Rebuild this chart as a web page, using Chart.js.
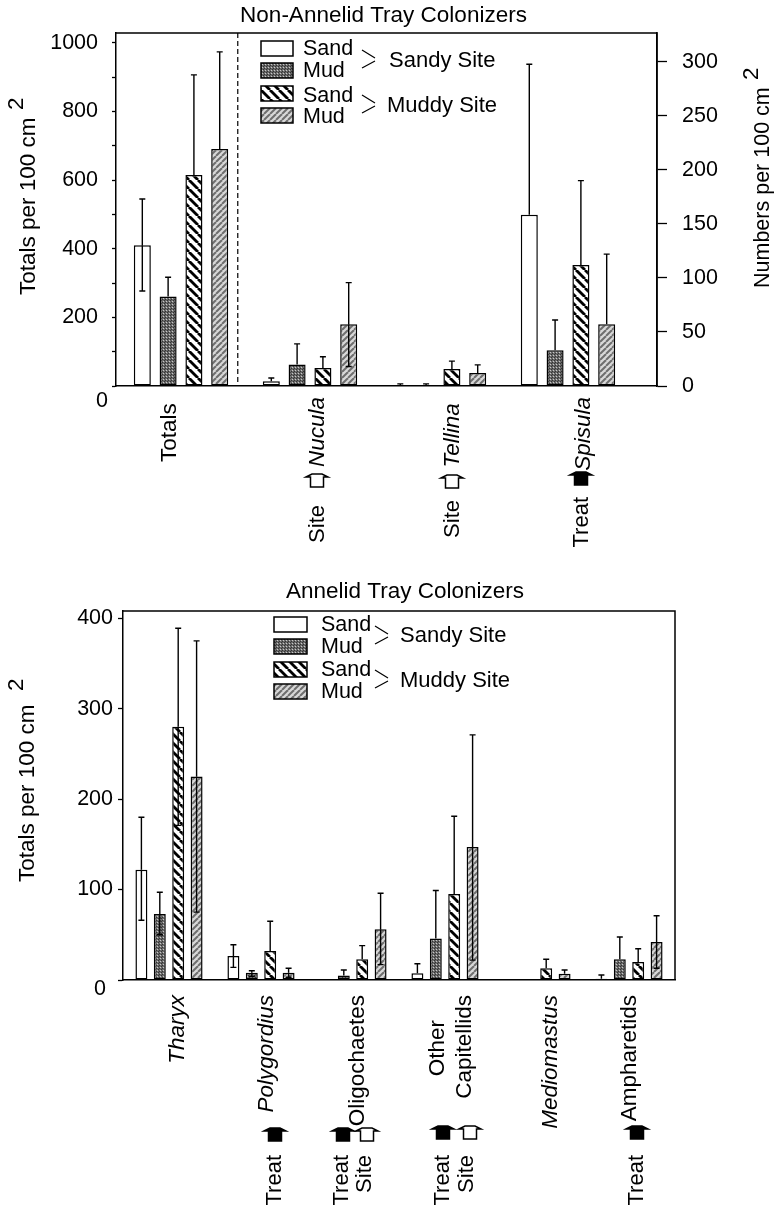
<!DOCTYPE html>
<html>
<head>
<meta charset="utf-8">
<style>
  html, body { margin: 0; padding: 0; background: #fff; }
  #wrapTop, #wrapBottom { position: absolute; left: 0; width: 775px; }
  #wrapTop { top: 0; height: 570px; }
  #wrapBottom { top: 570px; height: 635px; }
</style>
<script src="https://cdn.jsdelivr.net/npm/chart.js@4/dist/chart.umd.min.js"></script>
</head>
<body>
<div id="wrapTop"><canvas id="chartTop" width="775" height="570"></canvas></div>
<div id="wrapBottom"><canvas id="chartBottom" width="775" height="635"></canvas></div>
<script>
const seriesNames = ['Sand', 'Mud', 'Sand', 'Mud'];

// top panel: Totals reads on the left axis, the three species on the right one
const topCategories = ['Totals', 'Nucula', 'Tellina', 'Spisula'];
const topValues = [
  [410, 4.3, 1, 158.5],
  [261, 20, 1, 33],
  [615, 16.6, 15.7, 112],
  [691, 57, 12, 57]
];
const topUpper = [
  [545, 7.4, 2, 297.6],
  [317, 39, 2, 61],
  [907, 27, 23, 190],
  [974, 95.6, 19.5, 122]
];
const topLower = [
  [277, null, null, null],
  [null, null, null, null],
  [null, null, null, null],
  [null, 18, null, null]
];

const bottomCategories = ['Tharyx', 'Polygordius', 'Oligochaetes', ['Other', 'Capitellids'], 'Mediomastus', 'Ampharetids'];
const bottomTicks = [0, 100, 200, 300, 400];
const bottomValues = [
  [122, 26.5, 0, 7.4, 0.3, 1.5],
  [73, 8, 5, 46, 0.3, 23],
  [280, 32, 23, 95, 13, 20],
  [225, 8, 56, 147, 7, 42]
];
const bottomUpper = [
  [180, 39, null, 18, null, 5.5],
  [97, 10.3, 11, 99, null, 47.5],
  [389, 65, 38, 181, 23, 34.6],
  [375, 13, 96, 271, 11, 71]
];
const bottomLower = [
  [66, 14, null, null, null, null],
  [50, 4, null, null, null, null],
  [171, null, null, null, null, null],
  [75, 3, 17, 22, null, 13]
];

const FONT = '"Liberation Sans", Arial, sans-serif';
const uprightLabels = ['Totals', 'Oligochaetes', 'Ampharetids'];

function makeTile(w, h, paint) {
  const c = document.createElement('canvas');
  c.width = w; c.height = h;
  const g = c.getContext('2d');
  g.fillStyle = '#fff';
  g.fillRect(0, 0, w, h);
  paint(g, w, h);
  return g.createPattern(c, 'repeat');
}

function diagonal(g, size, color, width, back) {
  g.strokeStyle = color;
  g.lineWidth = width;
  for (let i = -1; i <= 1; i++) {
    g.beginPath();
    if (back) { g.moveTo(i * size, 0); g.lineTo(i * size + size, size); }
    else { g.moveTo(i * size, size); g.lineTo(i * size + size, 0); }
    g.stroke();
  }
}

const fills = [
  '#ffffff',
  makeTile(3, 3, function(g) {
    g.fillStyle = '#6a6a6a'; g.fillRect(0, 0, 3, 3);
    g.fillStyle = '#c8c8c8'; g.fillRect(1, 1, 1, 1);
    g.fillStyle = '#333'; g.fillRect(0, 2, 1, 1); g.fillRect(2, 0, 1, 1);
  }),
  makeTile(9, 9, function(g, w) { diagonal(g, w, '#000', 2.8, true); }),
  makeTile(6, 6, function(g, w) { g.fillStyle = '#d8d8d8'; g.fillRect(0, 0, w, w); diagonal(g, w, '#6e6e6e', 2, false); })
];

function drawRotated(ctx, text, x, y, font, align) {
  ctx.save();
  ctx.translate(x, y);
  ctx.rotate(-Math.PI / 2);
  ctx.font = font;
  ctx.textAlign = align;
  ctx.textBaseline = 'middle';
  ctx.fillStyle = '#000';
  ctx.fillText(text, 0, 0);
  ctx.restore();
}

// the Site / Treat hat mark, y is the brim line
function drawHat(ctx, x, y, filled) {
  ctx.save();
  ctx.strokeStyle = '#000';
  ctx.fillStyle = filled ? '#000' : '#fff';
  ctx.lineWidth = 1.5;
  ctx.beginPath();
  ctx.moveTo(x - 11, y);
  ctx.lineTo(x - 5, y - 3);
  ctx.lineTo(x + 5, y - 3);
  ctx.lineTo(x + 11, y);
  ctx.lineTo(x + 6.5, y);
  ctx.lineTo(x + 6.5, y + 10);
  ctx.lineTo(x - 6.5, y + 10);
  ctx.lineTo(x - 6.5, y);
  ctx.closePath();
  ctx.fill();
  ctx.stroke();
  ctx.restore();
}

const errorBars = {
  id: 'errorBars',
  afterDatasetsDraw(chart) {
    const ctx = chart.ctx;
    ctx.save();
    ctx.strokeStyle = '#000';
    ctx.lineWidth = 1.4;
    chart.data.datasets.forEach(function(ds, di) {
      const meta = chart.getDatasetMeta(di);
      const yScale = chart.scales[ds.yAxisID];
      meta.data.forEach(function(bar, i) {
        if (ds.data[i].y === null) return;
        const x = bar.x;
        [ds.upper[i], ds.lower[i]].forEach(function(v) {
          if (v === null) return;
          const y = yScale.getPixelForValue(v);
          ctx.beginPath();
          ctx.moveTo(x, yScale.getPixelForValue(ds.data[i].y));
          ctx.lineTo(x, y);
          ctx.moveTo(x - 3, y);
          ctx.lineTo(x + 3, y);
          ctx.stroke();
        });
      });
    });
    ctx.restore();
  }
};

// everything the scales cannot place: frame, legend block, hats, raised 2s
const extras = {
  id: 'extras',
  afterDraw(chart) {
    const ctx = chart.ctx, a = chart.chartArea, o = chart.options.plugins.extras;
    ctx.save();
    ctx.strokeStyle = '#000';
    ctx.lineWidth = 1.5;
    ctx.beginPath();
    ctx.moveTo(a.left, a.top);
    ctx.lineTo(a.right, a.top);
    ctx.lineTo(a.right, a.bottom);
    ctx.stroke();

    if (o.divider !== undefined) {
      const dx = chart.scales.x.getPixelForValue(o.divider);
      ctx.lineWidth = 1.2;
      ctx.setLineDash([5, 3]);
      ctx.beginPath();
      ctx.moveTo(dx, a.top);
      ctx.lineTo(dx, a.bottom);
      ctx.stroke();
      ctx.setLineDash([]);
    }

    // zero label sits below the axis in the original
    ctx.fillStyle = '#000';
    ctx.font = '21.5px ' + FONT;
    ctx.textAlign = 'right';
    ctx.textBaseline = 'middle';
    ctx.fillText('0', o.zero[0], chart.scales.y.getPixelForValue(0) + o.zero[1]);

    // legend
    const L = o.legend;
    ctx.textAlign = 'left';
    ctx.font = '21.5px ' + FONT;
    seriesNames.forEach(function(name, i) {
      ctx.lineWidth = 1.5;
      ctx.fillStyle = fills[i];
      ctx.fillRect(L.x, L.rows[i], L.w, 15);
      ctx.strokeRect(L.x, L.rows[i], L.w, 15);
      ctx.fillStyle = '#000';
      ctx.fillText(name, L.textX, L.texts[i]);
    });
    ctx.lineWidth = 1.2;
    ctx.font = '22px ' + FONT;
    L.groups.forEach(function(g) {
      ctx.beginPath();
      ctx.moveTo(L.arrowX, g.y);
      ctx.lineTo(L.arrowX + 13, g.y + 8);
      ctx.moveTo(L.arrowX + 13, g.y + 11);
      ctx.lineTo(L.arrowX, g.y + 18);
      ctx.stroke();
      ctx.fillText(g.text, g.x, g.ty);
    });

    o.hats.forEach(function(h) { drawHat(ctx, h[0], h[1], h[2]); });
    o.rotated.forEach(function(t) { drawRotated(ctx, t[0], t[1], t[2], '22px ' + FONT, 'right'); });
    o.axisTitles.forEach(function(t) {
      drawRotated(ctx, t.text, t.x, t.y, t.size + 'px ' + FONT, 'left');
      drawRotated(ctx, '2', t.x2, t.y2, '22.5px ' + FONT, 'left');
    });
    ctx.restore();
  }
};

function buildDatasets(values, upper, lower, catPct, bar, axisFor) {
  const sets = [];
  values.forEach(function(vals, s) {
    ['y', 'y1'].forEach(function(axis) {
      const picked = vals.map(function(v, i) { return axisFor(i) === axis ? v : null; });
      if (picked.every(function(v) { return v === null; })) return;
      sets.push({
        data: picked.map(function(v, i) { return { x: i, y: v }; }),
        upper: upper[s],
        lower: lower[s],
        yAxisID: axis,
        stack: 's' + s,
        backgroundColor: fills[s],
        borderColor: '#000',
        borderWidth: 1.5,
        borderSkipped: false,
        categoryPercentage: catPct,
        barPercentage: bar
      });
    });
  });
  return sets;
}

// trail = spaces after a label, rotated labels end at the axis so this lowers them.
// on a two line label only the first line gets them, the original centres its lines
function xScale(min, max, labels, positions, trail, height, padding) {
  return {
    type: 'linear',
    offset: false,
    min: min,
    max: max,
    grid: { display: false },
    border: { color: '#000', width: 1.5 },
    afterBuildTicks: function(scale) {
      scale.ticks = positions.map(function(p) { return { value: p }; });
    },
    afterFit: function(scale) { scale.height = height; },
    ticks: {
      autoSkip: false,
      minRotation: 90,
      maxRotation: 90,
      padding: padding,
      color: '#000',
      font: function(ctx) {
        const lab = labels[ctx.index];
        const italic = typeof lab === 'string' && uprightLabels.indexOf(lab) < 0;
        return { family: FONT, size: 22.5, style: italic ? 'italic' : 'normal' };
      },
      callback: function(v, i) {
        const pad = ' '.repeat(trail[i]);
        if (Array.isArray(labels[i])) return [labels[i][0] + pad, labels[i][1]];
        return labels[i] + pad;
      }
    }
  };
}

new Chart(document.getElementById('chartTop'), {
  type: 'bar',
  data: {
    datasets: buildDatasets(topValues, topUpper, topLower, 0.8, 0.66, function(i) { return i === 0 ? 'y' : 'y1'; })
  },
  plugins: [errorBars, extras],
  options: {
    animation: false,
    responsive: false,
    layout: { padding: { right: 8 } },
    scales: {
      x: xScale(-0.504, 3.69, topCategories, [-0.085, 1.06, 2.11, 3.12], [1, 0, 1, 0], 184, 3),
      y: {
        min: 0, max: 1029,
        afterFit: function(scale) { scale.width = 116; },
        border: { color: '#000', width: 1.5 },
        grid: { drawOnChartArea: false, tickLength: 4, tickColor: '#000', tickWidth: 1.3 },
        ticks: {
          stepSize: 100, includeBounds: false, autoSkip: false, padding: 14, color: '#000',
          font: { family: FONT, size: 21.5 },
          callback: function(v) { return v > 0 && v % 200 === 0 ? v : ''; }
        }
      },
      y1: {
        position: 'right',
        min: 0, max: 326.5,
        afterFit: function(scale) { scale.width = 110; },
        border: { color: '#000', width: 1.5 },
        grid: { drawOnChartArea: false, tickLength: 10, tickColor: '#000', tickWidth: 1.3 },
        ticks: {
          stepSize: 50, includeBounds: false, padding: 15, color: '#000',
          font: { family: FONT, size: 21.5 }
        }
      }
    },
    plugins: {
      legend: { display: false },
      tooltip: { enabled: false },
      title: {
        display: true, text: 'Non-Annelid Tray Colonizers', color: '#000',
        font: { family: FONT, size: 22.5, weight: 'normal' },
        padding: { top: 2, bottom: 4 }
      },
      extras: {
        divider: 0.44,
        zero: [108, 15],
        legend: {
          x: 261, w: 32, rows: [41, 63, 86, 108], textX: 303, texts: [49, 71, 96, 117],
          arrowX: 362,
          groups: [
            { y: 50, x: 389, ty: 61, text: 'Sandy Site' },
            { y: 95, x: 387, ty: 106, text: 'Muddy Site' }
          ]
        },
        hats: [[317, 477, false], [452, 478, false], [581, 475, true]],
        rotated: [['Site', 318, 505], ['Site', 453, 500], ['Treat', 582, 497]],
        axisTitles: [
          { text: 'Totals per 100 cm', size: 22.5, x: 29, y: 295, x2: 17, y2: 110 },
          { text: 'Numbers per 100 cm', size: 21.5, x: 763, y: 288, x2: 752, y2: 80 }
        ]
      }
    }
  }
});

// Chart.js sizes bars from the smallest tick gap too; the closest label positions
// here are 0.86 apart, so 0.93 gives the same group width as 0.8 of a full step
new Chart(document.getElementById('chartBottom'), {
  type: 'bar',
  data: {
    datasets: buildDatasets(bottomValues, bottomUpper, bottomLower, 0.93, 0.65, function() { return 'y'; })
  },
  plugins: [errorBars, extras],
  options: {
    animation: false,
    responsive: false,
    layout: { padding: { left: 36, right: 1 } },
    scales: {
      x: xScale(-0.5, 5.5, bottomCategories, [0.09, 1.065, 2.05, 2.925, 4.15, 5.01], [0, 0, 0, 4, 0, 0], 225, 7),
      y: {
        min: 0, max: 408,
        afterFit: function(scale) { scale.width = 87; },
        afterBuildTicks: function(scale) {
          scale.ticks = bottomTicks.map(function(v) { return { value: v }; });
        },
        border: { color: '#000', width: 1.5 },
        grid: { drawOnChartArea: false, tickLength: 5, tickColor: '#000', tickWidth: 1.3 },
        ticks: {
          padding: 5, color: '#000',
          font: { family: FONT, size: 21.5 },
          callback: function(v) { return v > 0 ? v : ''; }
        }
      },
      // empty right gutter, keeps the plot where it is while the title stays off-centre
      y1: {
        position: 'right',
        afterFit: function(scale) { scale.width = 99; },
        border: { display: false },
        grid: { display: false },
        ticks: { display: false }
      }
    },
    plugins: {
      legend: { display: false },
      tooltip: { enabled: false },
      title: {
        display: true, text: 'Annelid Tray Colonizers', color: '#000',
        font: { family: FONT, size: 22.5, weight: 'normal' },
        padding: { top: 8.5, bottom: 5.5 }
      },
      extras: {
        zero: [106, 9],
        legend: {
          x: 274, w: 33, rows: [47, 69, 92, 114], textX: 321, texts: [55, 77, 100, 122],
          arrowX: 375,
          groups: [
            { y: 56, x: 400, ty: 66, text: 'Sandy Site' },
            { y: 100, x: 400, ty: 111, text: 'Muddy Site' }
          ]
        },
        hats: [[275, 561, true], [343, 561, true], [367, 561, false], [443, 559, true], [470, 559, false], [637, 559, true]],
        rotated: [['Treat', 275, 585], ['Treat', 342, 585], ['Site', 365, 585], ['Treat', 443, 585], ['Site', 467, 585], ['Treat', 637, 585]],
        axisTitles: [
          { text: 'Totals per 100 cm', size: 22.5, x: 28, y: 312, x2: 17, y2: 121 }
        ]
      }
    }
  }
});
</script>
</body>
</html>
